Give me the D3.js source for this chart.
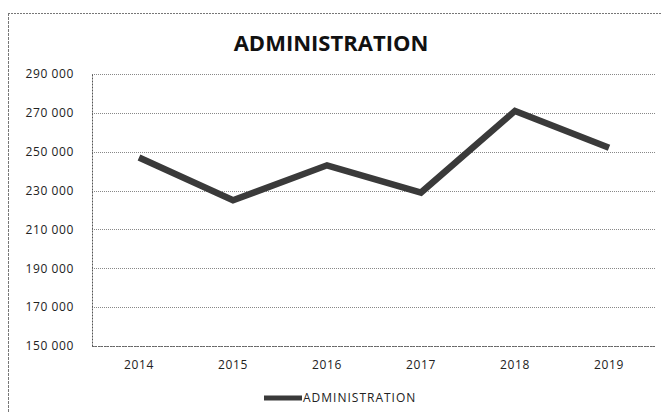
<!DOCTYPE html>
<html><head><meta charset="utf-8">
<script src="https://cdn.jsdelivr.net/npm/d3@7"></script>
<style>body{margin:0;background:#fff}svg{display:block}</style>
</head><body>
<script>
const years = ["2014","2015","2016","2017","2018","2019"];
const values = [247000, 225000, 243000, 229000, 271000, 252000];
const yTicks = [150000,170000,190000,210000,230000,250000,270000,290000];
const seriesName = "ADMINISTRATION";
const title = "ADMINISTRATION";

const W=661,H=412;
const svg=d3.select("body").append("svg").attr("width",W).attr("height",H);
const font="'Open Sans', 'Liberation Sans', sans-serif";

// outer chart border (top & left visible)
svg.append("line").attr("x1",8).attr("x2",W).attr("y1",13.5).attr("y2",13.5)
  .attr("stroke","#777").attr("stroke-width",1).attr("stroke-dasharray","2,1");
svg.append("line").attr("x1",8.5).attr("x2",8.5).attr("y1",13).attr("y2",H)
  .attr("stroke","#777").attr("stroke-width",1).attr("stroke-dasharray","3,1");

const m={l:92,r:656,t:74,b:346};
const x=d3.scaleBand().domain(years).range([m.l,m.r]);
const y=d3.scaleLinear().domain([150000,290000]).range([m.b,m.t]);
const fmt=d=>d3.format(",")(d).replace(/,/g," ");

// gridlines
svg.append("g").selectAll("line").data(yTicks).join("line")
  .attr("x1",m.l).attr("x2",656).attr("y1",d=>Math.round(y(d))+0.5).attr("y2",d=>Math.round(y(d))+0.5)
  .attr("stroke","#888").attr("stroke-width",1).attr("stroke-dasharray","1,1");

// y axis
const ya=svg.append("g").attr("transform",`translate(${m.l},0)`)
  .call(d3.axisLeft(y).tickValues(yTicks).tickFormat(fmt).tickSize(0).tickPadding(18));
ya.select(".domain").attr("stroke","#555").attr("stroke-dasharray","2,1");
ya.selectAll("text").attr("font-family",font).attr("font-size",12).attr("letter-spacing",0.6).attr("fill","#222");

// x axis
const xa=svg.append("g").attr("transform",`translate(0,${m.b})`)
  .call(d3.axisBottom(x).tickSize(0).tickPadding(14));
xa.select(".domain").remove();
svg.append("line").attr("x1",m.l).attr("x2",656).attr("y1",m.b+0.5).attr("y2",m.b+0.5)
  .attr("stroke","#666").attr("stroke-dasharray","2,1");
xa.selectAll("text").attr("font-family",font).attr("font-size",12).attr("letter-spacing",0.6).attr("fill","#222");

// line
const line=d3.line().x((d,i)=>x(years[i])+x.bandwidth()/2).y(d=>y(d));
svg.append("path").datum(values).attr("d",line).attr("fill","none")
  .attr("stroke","#3a3a3a").attr("stroke-width",6.5).attr("stroke-linejoin","miter");

// title
svg.append("text").attr("x",331).attr("y",51).attr("text-anchor","middle")
  .attr("font-family",font).attr("font-weight","bold").attr("font-size",22).attr("fill","#111").text(title);

// legend
svg.append("line").attr("x1",264).attr("x2",302).attr("y1",398).attr("y2",398)
  .attr("stroke","#3a3a3a").attr("stroke-width",5);
svg.append("text").attr("x",303).attr("y",402).attr("font-family",font).attr("font-size",12)
  .attr("letter-spacing",1).attr("fill","#222").text(seriesName);
</script>
</body></html>
